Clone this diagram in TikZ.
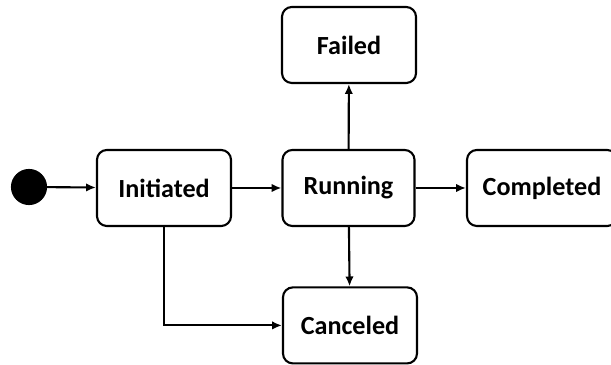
\documentclass[tikz,border=0pt]{standalone}
\usepackage{fontspec}
\setmainfont{Carlito}
\usepackage{tikz}
\usetikzlibrary{arrows.meta}

\begin{document}
\begin{tikzpicture}[line width=1.5pt, >={Latex[length=7pt,width=6pt]},
		state/.style={draw,shape=rectangle,rounded corners=7pt,minimum width=3.35cm,minimum height=1.9cm,font=\fontsize{18.6}{22}\selectfont\bfseries},
		start/.style={draw,shape=circle,fill=black,minimum size=0.85cm,inner sep=0pt}]
		\useasboundingbox (0,0) rectangle (15.275,9.125);
		\path (0.725,4.45) node[start] (s0) {}
		(4.1,4.425) node[state] (init) {Initiated}
		(8.7125,4.425) node[state,minimum width=3.3cm] (run) {Running}
		(8.725,8.0) node[state] (fail) {Failed}
		(13.55,4.425) node[state,minimum width=3.75cm] (done) {Completed}
		(8.75,0.99) node[state] (canc) {Canceled};

		\draw[->] (s0) -- (init);
		\draw[->] (init) -- (run);
		\draw[->] (run) -- (done);
		\draw[->] (run) -- (fail);
		\draw[->] (run) -- (canc);
		\draw[->] (init.south) |- (canc.west);

	\end{tikzpicture}
\end{document}
